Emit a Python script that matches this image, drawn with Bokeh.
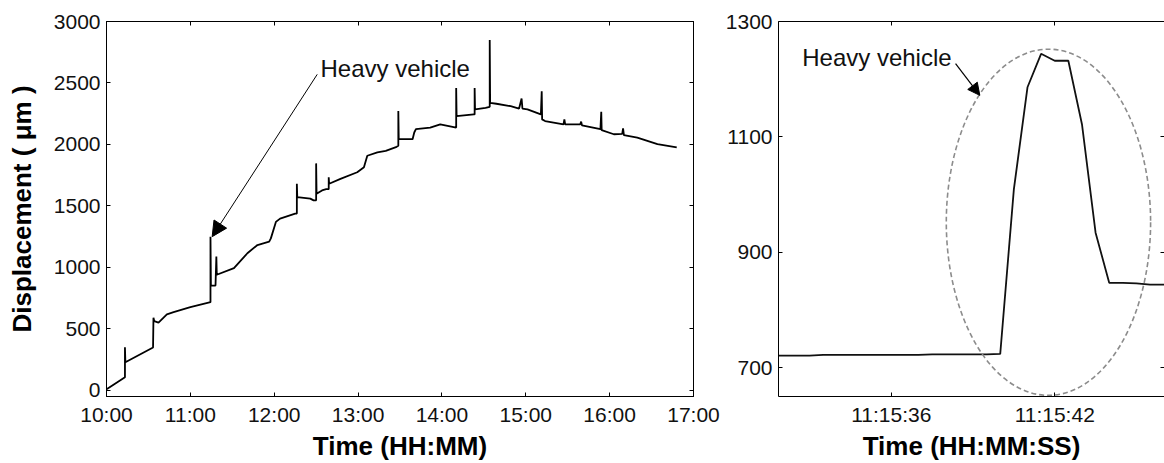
from bokeh.plotting import figure
from bokeh.layouts import row
from bokeh.models import FixedTicker, LinearAxis, Range1d, Arrow, NormalHead, Label
from bokeh.embed import file_html
from bokeh.resources import INLINE

# ---------------- data: left panel (whole day) ----------------
hours = [10.00, 10.01, 10.22, 10.22, 10.225, 10.555, 10.56, 10.57, 10.62, 10.72, 10.80, 11.00,
         11.24, 11.24, 11.245, 11.30, 11.31, 11.315, 11.52, 11.68, 11.80, 11.94, 11.96, 12.02,
         12.07, 12.25, 12.27, 12.27, 12.275, 12.43, 12.47, 12.50, 12.50, 12.505, 12.57, 12.62,
         12.65, 12.65, 12.655, 12.79, 12.99, 13.07, 13.11, 13.23, 13.33, 13.46, 13.48, 13.48,
         13.485, 13.65, 13.67, 13.69, 13.86, 13.98, 14.17, 14.17, 14.175, 14.38, 14.39, 14.39,
         14.395, 14.52, 14.57, 14.57, 14.575, 14.65, 14.82, 14.92, 14.95, 14.96, 15.02, 15.18,
         15.19, 15.195, 15.23, 15.45, 15.46, 15.47, 15.65, 15.66, 15.67, 15.89, 15.90, 15.905,
         16.05, 16.15, 16.16, 16.17, 16.33, 16.57, 16.80]
displacement = [10, 14, 107, 350, 228, 349, 591, 563, 551, 618, 636, 676,
                717, 1250, 852, 852, 1088, 940, 994, 1115, 1182, 1209, 1236, 1370,
                1397, 1438, 1438, 1680, 1572, 1559, 1545, 1546, 1846, 1599, 1626, 1636,
                1636, 1733, 1680, 1720, 1774, 1814, 1908, 1935, 1948, 1981, 1989, 2272,
                2043, 2043, 2097, 2124, 2137, 2164, 2137, 2459, 2231, 2244, 2244, 2459,
                2285, 2298, 2306, 2849, 2338, 2331, 2311, 2292, 2373, 2292, 2286, 2244,
                2432, 2204, 2190, 2164, 2204, 2164, 2164, 2186, 2156, 2124, 2265, 2116,
                2083, 2086, 2131, 2076, 2056, 2002, 1976]

left_x_ticks = [10, 11, 12, 13, 14, 15, 16, 17]
left_x_labels = ["10:00", "11:00", "12:00", "13:00", "14:00", "15:00", "16:00", "17:00"]
left_y_ticks = [0, 500, 1000, 1500, 2000, 2500, 3000]
left_y_labels = ["0", "500", "1000", "1500", "2000", "2500", "3000"]

# ---------------- data: right panel (zoom on one event) ----------------
# seconds after 11:15:00
seconds = [31.5, 32.0, 32.5, 33.0, 33.5, 34.0, 34.5, 35.0, 35.5, 36.0, 36.5, 37.0, 37.5,
           38.0, 38.5, 39.0, 39.5, 40.0, 40.5, 41.0, 41.5, 42.0, 42.5, 43.0, 43.5, 44.0,
           44.5, 45.0, 45.5, 46.0, 46.5]
event_disp = [721, 721, 721, 721, 722, 722, 722, 722, 722, 722, 722, 722, 723,
              723, 723, 723, 723, 724, 1009, 1186, 1244, 1232, 1232, 1122, 934, 847,
              847, 846, 844, 844, 844]

right_x_ticks = [36, 42]
right_x_labels = ["11:15:36", "11:15:42"]
right_y_ticks = [700, 900, 1100, 1300]
right_y_labels = ["700", "900", "1100", "1300"]

# ellipse around the event: centre (s, um), width (s), height (um)
ell_x, ell_y, ell_w, ell_h = [41.77], [952], [7.5], [600]

FONT = "Liberation Sans"
TICK_FS = "21px"
LABEL_FS = "26px"
NOTE_FS = "24px"


def style_axis(ax, ticks, labels=None, standoff=6):
    ax.ticker = FixedTicker(ticks=ticks)
    ax.major_tick_in = 4
    ax.major_tick_out = 0
    ax.minor_tick_line_color = None
    ax.axis_line_color = "black"
    ax.major_tick_line_color = "black"
    ax.major_label_text_font = FONT
    ax.major_label_text_font_size = TICK_FS
    ax.major_label_text_color = "#111111"
    ax.major_label_standoff = standoff
    if labels is None:
        ax.major_label_overrides = {t: "" for t in ticks}
        ax.major_label_standoff = 0
    else:
        ax.major_label_overrides = {t: l for t, l in zip(ticks, labels)}
    ax.axis_label_text_font = FONT
    ax.axis_label_text_font_size = LABEL_FS
    ax.axis_label_text_font_style = "bold"
    ax.axis_label_text_color = "black"


# ---------------- left figure ----------------
p1 = figure(width=722, height=463, x_range=Range1d(10, 17), y_range=Range1d(-50, 3000),
            output_backend="svg", toolbar_location=None,
            min_border_left=106, min_border_right=29, min_border_top=21, min_border_bottom=65)
p1.grid.visible = False
p1.outline_line_color = "black"
p1.background_fill_color = "white"
p1.border_fill_color = "white"

style_axis(p1.xaxis[0], left_x_ticks, left_x_labels)
style_axis(p1.yaxis[0], left_y_ticks, left_y_labels)
p1.xaxis[0].axis_label = "Time (HH:MM)"
p1.xaxis[0].axis_label_standoff = 2
p1.yaxis[0].axis_label = "Displacement ( \u03bcm )"
p1.yaxis[0].axis_label_standoff = 14

top1 = LinearAxis()
style_axis(top1, left_x_ticks)
p1.add_layout(top1, "above")
right1 = LinearAxis()
style_axis(right1, left_y_ticks)
p1.add_layout(right1, "right")

p1.line(hours, displacement, line_color="black", line_width=1.8)

p1.add_layout(Arrow(end=NormalHead(size=15, fill_color="black", line_color="black"),
                    x_start=12.513, y_start=2570, x_end=11.26, y_end=1250,
                    line_color="black", line_width=1))
p1.add_layout(Label(x=12.552, y=2621, text="Heavy vehicle", text_font=FONT,
                    text_font_size=NOTE_FS, text_color="#111111", text_baseline="alphabetic"))

# ---------------- right figure ----------------
p2 = figure(width=442, height=463, x_range=Range1d(31.86, 46.03), y_range=Range1d(650, 1300),
            output_backend="svg", toolbar_location=None,
            min_border_left=56, min_border_right=0, min_border_top=21, min_border_bottom=65)
p2.grid.visible = False
p2.outline_line_color = None
p2.background_fill_color = "white"
p2.border_fill_color = "white"

style_axis(p2.xaxis[0], right_x_ticks, right_x_labels)
style_axis(p2.yaxis[0], right_y_ticks, right_y_labels)
p2.xaxis[0].axis_label = "Time (HH:MM:SS)"
p2.xaxis[0].axis_label_standoff = 2

top2 = LinearAxis()
style_axis(top2, right_x_ticks)
p2.add_layout(top2, "above")
right2 = LinearAxis()
style_axis(right2, right_y_ticks)
right2.axis_line_color = None
p2.add_layout(right2, "right")

p2.line(seconds, event_disp, line_color="#111111", line_width=1.8)
p2.ellipse(x=ell_x, y=ell_y, width=ell_w, height=ell_h, fill_alpha=0,
           line_color="#8c8c8c", line_width=1.6, line_dash="5 3")

p2.add_layout(Arrow(end=NormalHead(size=12, fill_color="black", line_color="black"),
                    x_start=38.36, y_start=1227, x_end=39.25, y_end=1172,
                    line_color="black", line_width=1.2))
p2.add_layout(Label(x=32.73, y=1238, text="Heavy vehicle", text_font=FONT,
                    text_font_size=NOTE_FS, text_color="#111111", text_baseline="alphabetic"))

layout = row(p1, p2)
open("out.html", "w").write(file_html(layout, INLINE))
